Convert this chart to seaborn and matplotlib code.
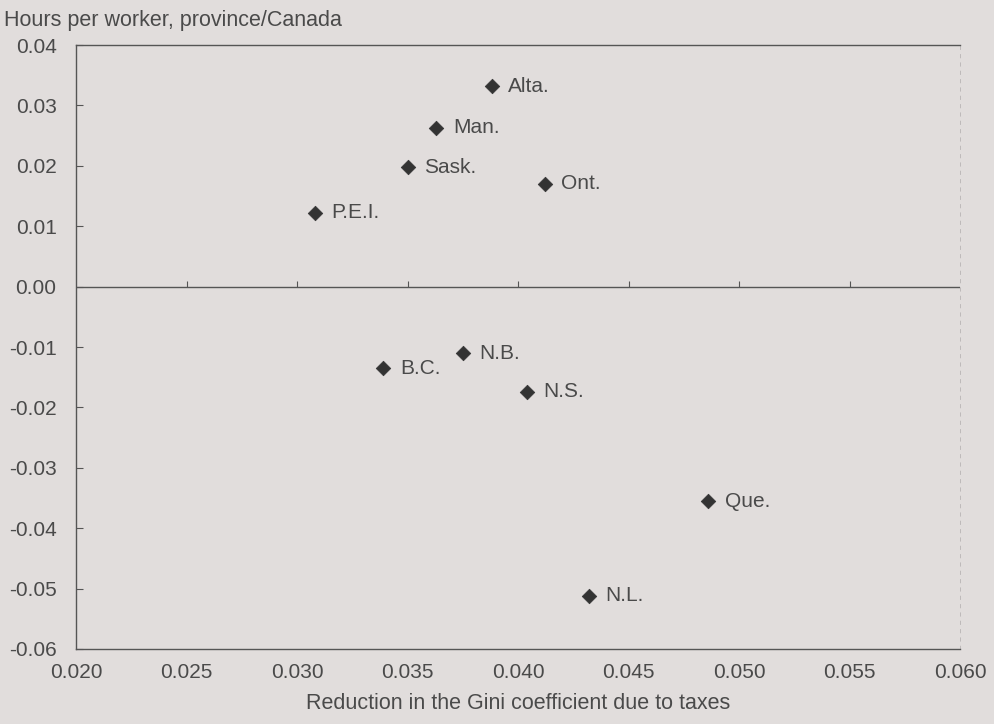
import matplotlib
matplotlib.use("Agg")
import matplotlib.pyplot as plt
import seaborn as sns
import pandas as pd

provinces = ["Alta.", "Man.", "Sask.", "Ont.", "P.E.I.", "B.C.", "N.B.", "N.S.", "Que.", "N.L."]
gini_reduction = [0.0388, 0.0363, 0.0350, 0.0412, 0.0308, 0.0339, 0.0375, 0.0404, 0.0486, 0.0432]
hours_ratio = [0.0332, 0.0263, 0.0198, 0.0170, 0.0122, -0.0135, -0.0110, -0.0174, -0.0355, -0.0512]

x_ticks = [0.020, 0.025, 0.030, 0.035, 0.040, 0.045, 0.050, 0.055, 0.060]
y_ticks = [-0.06, -0.05, -0.04, -0.03, -0.02, -0.01, 0.00, 0.01, 0.02, 0.03, 0.04]

df = pd.DataFrame({"prov": provinces, "x": gini_reduction, "y": hours_ratio})

sns.set_theme(style="white")
plt.rcParams["font.family"] = ["Liberation Sans", "DejaVu Sans"]

bg = "#e1dddc"
txt = "#4a4a4a"
fig = plt.figure(figsize=(9.94, 7.24), dpi=100, facecolor=bg)
ax = fig.add_axes([0.0765, 0.1036, 0.8893, 0.8342], facecolor=bg)

sns.scatterplot(data=df, x="x", y="y", marker="D", s=55, color="#333333",
                edgecolor="#333333", linewidth=0.5, ax=ax, legend=False, zorder=3)

for _, r in df.iterrows():
    ax.annotate(r["prov"], (r["x"], r["y"]), xytext=(12, 0), textcoords="offset points",
                ha="left", va="center", fontsize=15, color=txt)

ax.set_xlim(x_ticks[0], x_ticks[-1])
ax.set_ylim(y_ticks[0], y_ticks[-1])
ax.set_xticks(x_ticks)
ax.set_yticks(y_ticks)
ax.set_xticklabels([f"{v:.3f}" for v in x_ticks])
ax.set_yticklabels([f"{v:.2f}" for v in y_ticks])

ax.tick_params(axis="both", labelsize=15, colors=txt)
ax.tick_params(axis="y", direction="in", length=5, width=0.8, color="#555555", pad=14, left=True)
ax.tick_params(axis="x", length=0, pad=10)

# zero line with small tick marks
ax.axhline(0, color="#555555", lw=1.0, zorder=2)
ax.vlines(x_ticks[1:-1], 0, 0.0009, color="#555555", lw=0.8, zorder=2)

for side in ["left", "bottom", "top"]:
    ax.spines[side].set_color("#555555")
    ax.spines[side].set_linewidth(1.0)
ax.spines["right"].set_color("#b8b4b4")
ax.spines["right"].set_linewidth(0.6)
ax.spines["right"].set_linestyle((0, (4, 6)))

ax.set_xlabel("Reduction in the Gini coefficient due to taxes", fontsize=15.5, color=txt, labelpad=8)
ax.set_ylabel("")
fig.text(0.004, 0.986, "Hours per worker, province/Canada", fontsize=15.5, color=txt,
         ha="left", va="top")

fig.savefig("out.png", dpi=100, facecolor=bg)
